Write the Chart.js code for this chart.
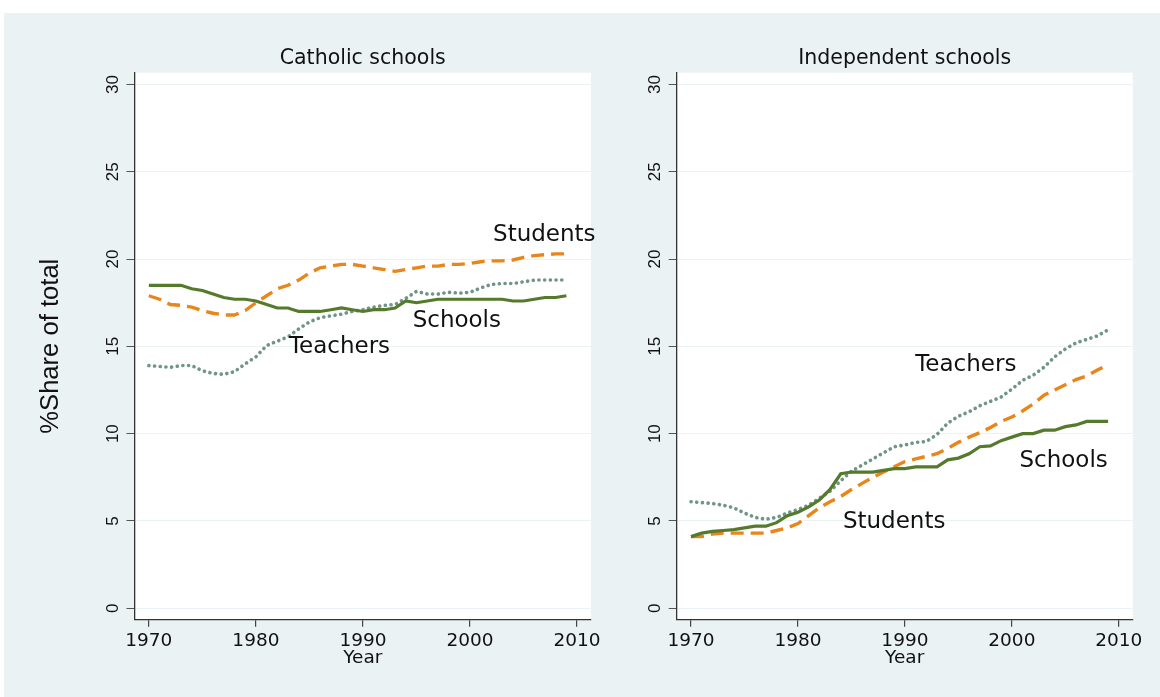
<!DOCTYPE html>
<html><head><meta charset="utf-8">
<script src="https://cdn.jsdelivr.net/npm/chart.js@4"></script>
<style>
html,body{margin:0;padding:0;background:#fff;width:1160px;height:697px;overflow:hidden;}
#bg{position:absolute;left:4px;top:13px;width:1156px;height:684px;background:rgb(234,242,243);}
canvas{position:absolute;top:0;}
#c1{left:0;} #c2{left:625px;}
</style></head><body>
<div id="bg"></div>
<canvas id="c1" width="625" height="697"></canvas>
<canvas id="c2" width="535" height="697"></canvas>
<script>
// ---- data ----
const years = [1970,1971,1972,1973,1974,1975,1976,1977,1978,1979,
               1980,1981,1982,1983,1984,1985,1986,1987,1988,1989,
               1990,1991,1992,1993,1994,1995,1996,1997,1998,1999,
               2000,2001,2002,2003,2004,2005,2006,2007,2008,2009];

const catholicSchools = [18.5,18.5,18.5,18.5,18.3,18.2,18.0,17.8,17.7,17.7,
                         17.6,17.4,17.2,17.2,17.0,17.0,17.0,17.1,17.2,17.1,
                         17.0,17.1,17.1,17.2,17.6,17.5,17.6,17.7,17.7,17.7,
                         17.7,17.7,17.7,17.7,17.6,17.6,17.7,17.8,17.8,17.9];
const catholicStudents = [17.9,17.7,17.4,17.35,17.25,17.05,16.9,16.8,16.8,17.05,
                          17.5,17.9,18.3,18.5,18.8,19.2,19.5,19.6,19.7,19.7,
                          19.6,19.5,19.4,19.3,19.4,19.5,19.6,19.6,19.7,19.7,
                          19.75,19.85,19.9,19.9,19.95,20.1,20.2,20.25,20.3,20.3];
const catholicTeachers = [13.9,13.85,13.8,13.9,13.9,13.6,13.45,13.4,13.55,14.0,
                          14.4,15.05,15.3,15.55,16.0,16.4,16.65,16.75,16.85,17.0,
                          17.1,17.25,17.35,17.4,17.75,18.15,18.0,18.0,18.1,18.05,
                          18.1,18.35,18.55,18.6,18.6,18.7,18.8,18.8,18.8,18.8];

const indepSchools = [4.1,4.3,4.4,4.45,4.5,4.6,4.7,4.7,4.9,5.3,
                      5.5,5.8,6.2,6.8,7.7,7.8,7.8,7.8,7.9,8.0,
                      8.0,8.1,8.1,8.1,8.5,8.6,8.85,9.25,9.3,9.6,
                      9.8,10.0,10.0,10.2,10.2,10.4,10.5,10.7,10.7,10.7];
const indepStudents = [4.1,4.1,4.25,4.3,4.3,4.3,4.3,4.3,4.45,4.6,
                       4.85,5.3,5.75,6.1,6.4,6.8,7.15,7.5,7.8,8.1,
                       8.4,8.55,8.7,8.85,9.15,9.5,9.8,10.05,10.35,10.7,
                       10.95,11.3,11.7,12.2,12.5,12.8,13.1,13.3,13.65,13.95];
const indepTeachers = [6.1,6.05,6.0,5.9,5.75,5.45,5.2,5.1,5.2,5.45,
                       5.65,5.9,6.3,6.7,7.3,7.85,8.2,8.55,8.9,9.25,
                       9.35,9.5,9.55,9.95,10.6,11.0,11.25,11.6,11.85,12.1,
                       12.55,13.05,13.35,13.8,14.4,14.85,15.2,15.4,15.6,15.95];

const xTickValues = [1970,1980,1990,2000,2010];
const yTickValues = [0,5,10,15,20,25,30];

const panelTitles = ['Catholic schools','Independent schools'];
const seriesNames = ['Schools','Students','Teachers'];

// in-plot line labels: [text, year, value]
const catholicNotes = [['Students',2002.15,21.38],['Schools',1994.64,16.45],['Teachers',1983.08,14.97]];
const indepNotes = [['Teachers',1990.96,13.93],['Schools',2000.71,8.45],['Students',1984.2,4.96]];

// ---- drawing ----
const BG = 'rgb(234,242,243)';
const COL_SCHOOLS = '#557a2c';
const COL_STUDENTS = '#e8861c';
const COL_TEACHERS = '#6f9488';

const whiteArea = {
  id:'whiteArea',
  beforeDraw(chart){
    const {ctx, chartArea:a} = chart;
    ctx.save(); ctx.fillStyle='#fff';
    ctx.fillRect(a.left, a.top, a.right-a.left, a.bottom-a.top);
    ctx.restore();
  }
};
const notesPlugin = {
  id:'notes',
  afterDatasetsDraw(chart, args, opts){
    const {ctx, scales} = chart;
    ctx.save();
    ctx.font = '23px "DejaVu Sans"';
    ctx.fillStyle = '#111';
    ctx.textAlign = 'left';
    ctx.textBaseline = 'middle';
    (opts.items||[]).forEach(n => {
      ctx.fillText(n[0], scales.x.getPixelForValue(n[1]), scales.y.getPixelForValue(n[2]));
    });
    ctx.restore();
  }
};

function pts(vals){ return years.map((yr,i)=>({x:yr, y:vals[i]})); }

function makePanel(id, title, schools, students, teachers, notes, yWidth, padRight, showYTitle){
  new Chart(document.getElementById(id), {
    type:'line',
    data:{datasets:[
      {label:seriesNames[0], data:pts(schools), borderColor:COL_SCHOOLS, borderWidth:3.2, pointRadius:0, tension:0, fill:false},
      {label:seriesNames[1], data:pts(students), borderColor:COL_STUDENTS, borderWidth:3.4, borderDash:[13,7], pointRadius:0, tension:0, fill:false},
      {label:seriesNames[2], data:pts(teachers), borderColor:COL_TEACHERS, borderWidth:3.6, borderDash:[0.1,5.6], borderCapStyle:'round', pointRadius:0, tension:0, fill:false}
    ]},
    options:{
      responsive:false, animation:false, devicePixelRatio:1,
      layout:{padding:{left:0, top:46.7, right:padRight, bottom:17.3}},
      plugins:{
        legend:{display:false}, tooltip:{enabled:false},
        title:{display:true, fullSize:false, text:title, color:'#111', font:{family:'DejaVu Sans', size:20.5, weight:'normal'}, padding:{top:0,bottom:1.4}},
        notes:{items:notes}
      },
      scales:{
        x:{type:'linear', min:1968.66, max:2011.3,
          afterBuildTicks:s=>{s.ticks = xTickValues.map(v=>({value:v}));},
          afterFit:s=>{s.height = 60;},
          ticks:{callback:v=>String(v), color:'#111', font:{family:'DejaVu Sans', size:18.5}, padding:3, maxRotation:0, autoSkip:false},
          grid:{drawOnChartArea:false, tickLength:7, tickColor:'#444', lineWidth:1.2},
          border:{color:'#333', width:1.3},
          title:{display:true, text:'Year', color:'#111', font:{family:'DejaVu Sans', size:18.5}, padding:{top:0,bottom:10.3}}
        },
        y:{type:'linear', min:-0.66, max:30.68,
          afterBuildTicks:s=>{s.ticks = yTickValues.map(v=>({value:v}));},
          afterFit:s=>{s.width = yWidth;},
          ticks:{minRotation:90, maxRotation:90, crossAlign:'center', padding:4, color:'#111', font:{family:'Liberation Sans', size:17}, autoSkip:false},
          grid:{color:BG, lineWidth:1, tickLength:8, tickColor:'#555'},
          border:{color:'#333', width:1.3},
          title:{display:showYTitle, text:'%Share of total', color:'#111', font:{family:'Liberation Sans', size:25.6}, padding:{top:35.5,bottom:0}}
        }
      }
    },
    plugins:[whiteArea, notesPlugin]
  });
}

makePanel('c1', panelTitles[0], catholicSchools, catholicStudents, catholicTeachers, catholicNotes, 134.5, 34, true);
makePanel('c2', panelTitles[1], indepSchools, indepStudents, indepTeachers, indepNotes, 51.7, 27.3, false);
</script>
</body></html>
